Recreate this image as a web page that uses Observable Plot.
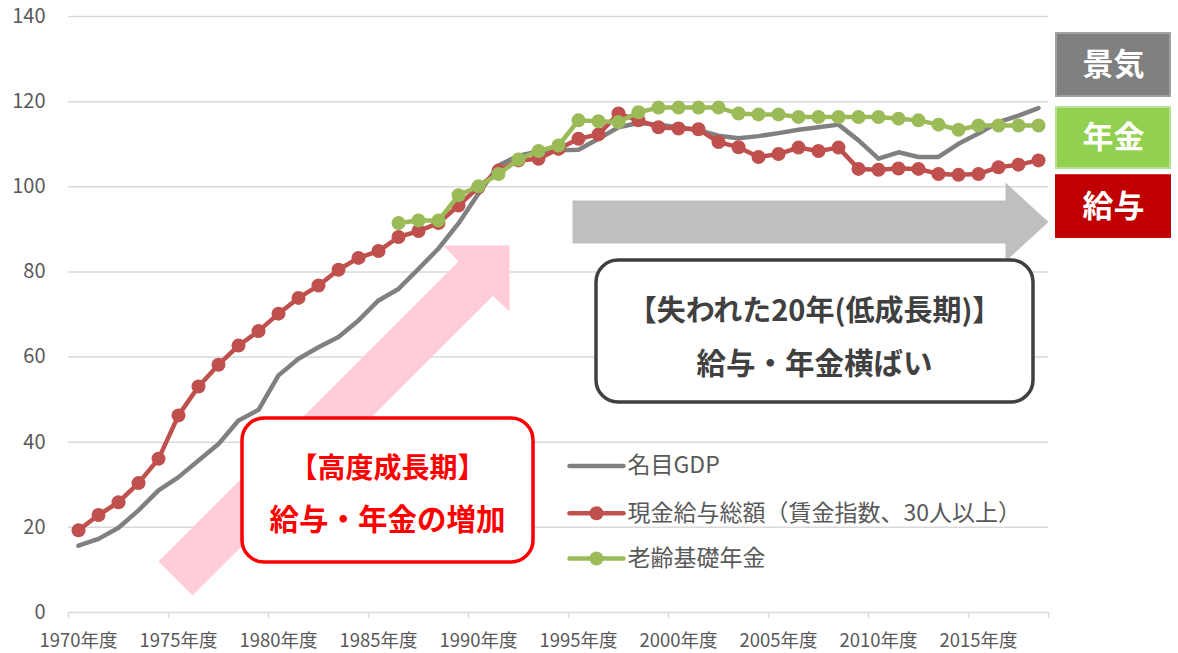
<!DOCTYPE html>
<html><head><meta charset="utf-8">
<script src="https://cdn.jsdelivr.net/npm/d3@7"></script>
<script src="https://cdn.jsdelivr.net/npm/@observablehq/plot@0.6"></script>
<style>body{margin:0;background:#fff;}</style>
</head><body><div id="chart"></div>
<script>
// ---- data ----
const years = [1970,1971,1972,1973,1974,1975,1976,1977,1978,1979,
  1980,1981,1982,1983,1984,1985,1986,1987,1988,1989,
  1990,1991,1992,1993,1994,1995,1996,1997,1998,1999,
  2000,2001,2002,2003,2004,2005,2006,2007,2008,2009,
  2010,2011,2012,2013,2014,2015,2016,2017,2018];
const gdp = [15.7,17.3,19.9,24.0,28.7,31.8,35.7,39.6,45.1,47.6,
  55.7,59.6,62.3,64.7,68.6,73.3,76.0,80.7,85.5,91.4,
  98.4,105.0,107.3,108.3,108.6,108.7,111.3,114.0,115.0,114.6,
  114.0,113.3,112.0,111.4,111.9,112.6,113.4,114.0,114.6,110.9,
  106.6,108.1,107.0,107.0,110.1,112.5,115.2,116.7,118.5];
const wage = [19.3,22.9,25.9,30.4,36.1,46.3,53.1,58.2,62.7,66.1,
  70.2,73.9,76.8,80.5,83.3,84.9,88.2,89.6,91.5,95.6,
  99.9,103.8,106.2,106.6,108.9,111.3,112.3,117.2,115.6,114.0,
  113.7,113.5,110.5,109.3,107.0,107.7,109.2,108.4,109.2,104.2,
  104.0,104.3,104.2,103.0,102.8,103.0,104.6,105.2,106.2];
const pensionYears = [1986,1987,1988,1989,1990,1991,1992,1993,1994,1995,
  1996,1997,1998,1999,2000,2001,2002,2003,2004,2005,
  2006,2007,2008,2009,2010,2011,2012,2013,2014,2015,2016,2017,2018];
const pension = [91.5,92.1,92.1,98.0,100.1,103.0,106.4,108.4,109.7,115.6,
  115.4,115.2,117.5,118.6,118.6,118.6,118.6,117.2,117.0,117.0,
  116.4,116.4,116.4,116.4,116.4,116.0,115.6,114.6,113.4,114.4,114.4,114.4,114.4];
const seriesNames = ["名目GDP", "現金給与総額（賃金指数、30人以上）", "老齢基礎年金"];
const seriesColors = ["#808080", "#C0504D", "#9BBB59"];
const yTicks = [0,20,40,60,80,100,120,140];
const xLabelYears = [1970,1975,1980,1985,1990,1995,2000,2005,2010,2015];
const boxTitles = ["景気", "年金", "給与"];
const boxColors = ["#808080", "#92D050", "#C00000"];
const boxBorders = ["#A0A0A0", "#B8E090", "#C00000"];
const boom = ["【高度成長期】", "給与・年金の増加"];
const lost = ["【失われた20年(低成長期)】", "給与・年金横ばい"];

// ---- tables built from the arrays ----
const gdpData = years.map((y, i) => ({year: y, v: gdp[i]}));
const wageData = years.map((y, i) => ({year: y, v: wage[i]}));
const penData = pensionYears.map((y, i) => ({year: y, v: pension[i]}));
const xTickPos = xLabelYears.map(y => y - 0.5).concat([years[years.length - 1] + 0.5]);

// decorations, in data space (year, index value)
const pinkArrow = [[1974.0,11.98],[1989.0,82.45],[1988.25,86.21],[1991.55,86.21],[1991.55,70.71],[1990.72,74.35],[1975.7,3.99]].map(([x,y])=>({x,y}));
const grayArrow = [[1994.7,96.78],[2016.35,96.78],[2016.35,101.0],[2018.5,91.73],[2016.35,82.45],[2016.35,86.68],[1994.7,86.68]].map(([x,y])=>({x,y}));
const sideBoxes = boxTitles.map((t, i) => ({t, x1: 2018.9, x2: 2024.6,
  y1: [136.0,118.6,102.6][i], y2: [121.2,104.3,88.1][i], fill: boxColors[i], stroke: boxBorders[i]}));
const legendRows = seriesNames.map((n, i) => ({n, c: seriesColors[i], y: [34.4, 23.3, 12.7][i], dot: i > 0}));
const legendLines = legendRows.flatMap(r => [{x: 1994.55, y: r.y, c: r.c}, {x: 1997.25, y: r.y, c: r.c}]);

const chart = Plot.plot({
  width: 1178, height: 653,
  marginLeft: 68, marginRight: 130, marginTop: 16, marginBottom: 41,
  style: {fontFamily: '"Noto Sans CJK JP", "Noto Sans", sans-serif', background: "white"},
  x: {domain: [1969.5, 2018.5]},
  y: {domain: [0, 140]},
  marks: [
    Plot.gridY(yTicks.slice(1), {stroke: "#D9D9D9", strokeOpacity: 1, strokeWidth: 1.5}),
    Plot.ruleY([0], {stroke: "#D9D9D9", strokeWidth: 1.5}),
    Plot.axisX({ticks: xTickPos, tickSize: 6, tickFormat: () => "", stroke: "#D9D9D9", strokeWidth: 1.5, label: null}),
    Plot.axisX({ticks: xLabelYears, tickSize: 0, tickPadding: 21, tickFormat: d => d + "年度", fontSize: 18.5, fill: "#595959", label: null}),
    Plot.axisY({ticks: yTicks, tickSize: 0, tickPadding: 23, fontSize: 20, fill: "#595959", label: null}),
    // arrows
    Plot.line(pinkArrow, {x: "x", y: "y", fill: "#FFCCD8", stroke: "none", curve: "linear-closed"}),
    Plot.line(grayArrow, {x: "x", y: "y", fill: "#BFBFBF", stroke: "none", curve: "linear-closed"}),
    // series
    Plot.line(gdpData, {x: "year", y: "v", stroke: seriesColors[0], strokeWidth: 4.5}),
    Plot.line(wageData, {x: "year", y: "v", stroke: seriesColors[1], strokeWidth: 4.5}),
    Plot.dot(wageData, {x: "year", y: "v", r: 7, fill: seriesColors[1]}),
    Plot.line(penData, {x: "year", y: "v", stroke: seriesColors[2], strokeWidth: 4.5}),
    Plot.dot(penData, {x: "year", y: "v", r: 7, fill: seriesColors[2]}),
    // legend
    Plot.line(legendLines, {x: "x", y: "y", z: "c", stroke: "c", strokeWidth: 4.5}),
    Plot.dot(legendRows.filter(d => d.dot), {x: 1995.9, y: "y", r: 7, fill: "c"}),
    Plot.text(legendRows, {x: 1997.45, y: "y", text: "n", textAnchor: "start", fontSize: 23, fill: "#595959"}),
    // red rounded box
    Plot.rect([0], {x1: 1978.2, x2: 1992.75, y1: 11.74, y2: 45.57, rx: 22, fill: "white", stroke: "#FF0000", strokeWidth: 3.5}),
    Plot.text([boom[0]], {x: 1985.45, y: 33.6, text: d => d, fontSize: 28, fontWeight: "bold", fill: "#FF0000"}),
    Plot.text([boom[1]], {x: 1985.45, y: 21.6, text: d => d, fontSize: 29.5, fontWeight: "bold", fill: "#FF0000"}),
    // dark rounded box
    Plot.rect([0], {x1: 1995.9, x2: 2017.75, y1: 49.33, y2: 82.69, rx: 22, fill: "white", stroke: "#404040", strokeWidth: 3.5}),
    Plot.text([lost[0]], {x: 2006.8, y: 70.7, text: d => d, fontSize: 29, fontWeight: "bold", fill: "#404040"}),
    Plot.text([lost[1]], {x: 2006.8, y: 58.3, text: d => d, fontSize: 29.5, fontWeight: "bold", fill: "#404040"}),
    // side boxes
    Plot.rect(sideBoxes, {x1: "x1", x2: "x2", y1: "y1", y2: "y2", fill: "fill", stroke: "stroke", strokeWidth: 2}),
    Plot.text(sideBoxes, {x: d => (d.x1 + d.x2) / 2, y: d => (d.y1 + d.y2) / 2, text: "t", fontSize: 31, fontWeight: "bold", fill: "white"})
  ]
});
document.getElementById("chart").appendChild(chart);
</script>
</body></html>
